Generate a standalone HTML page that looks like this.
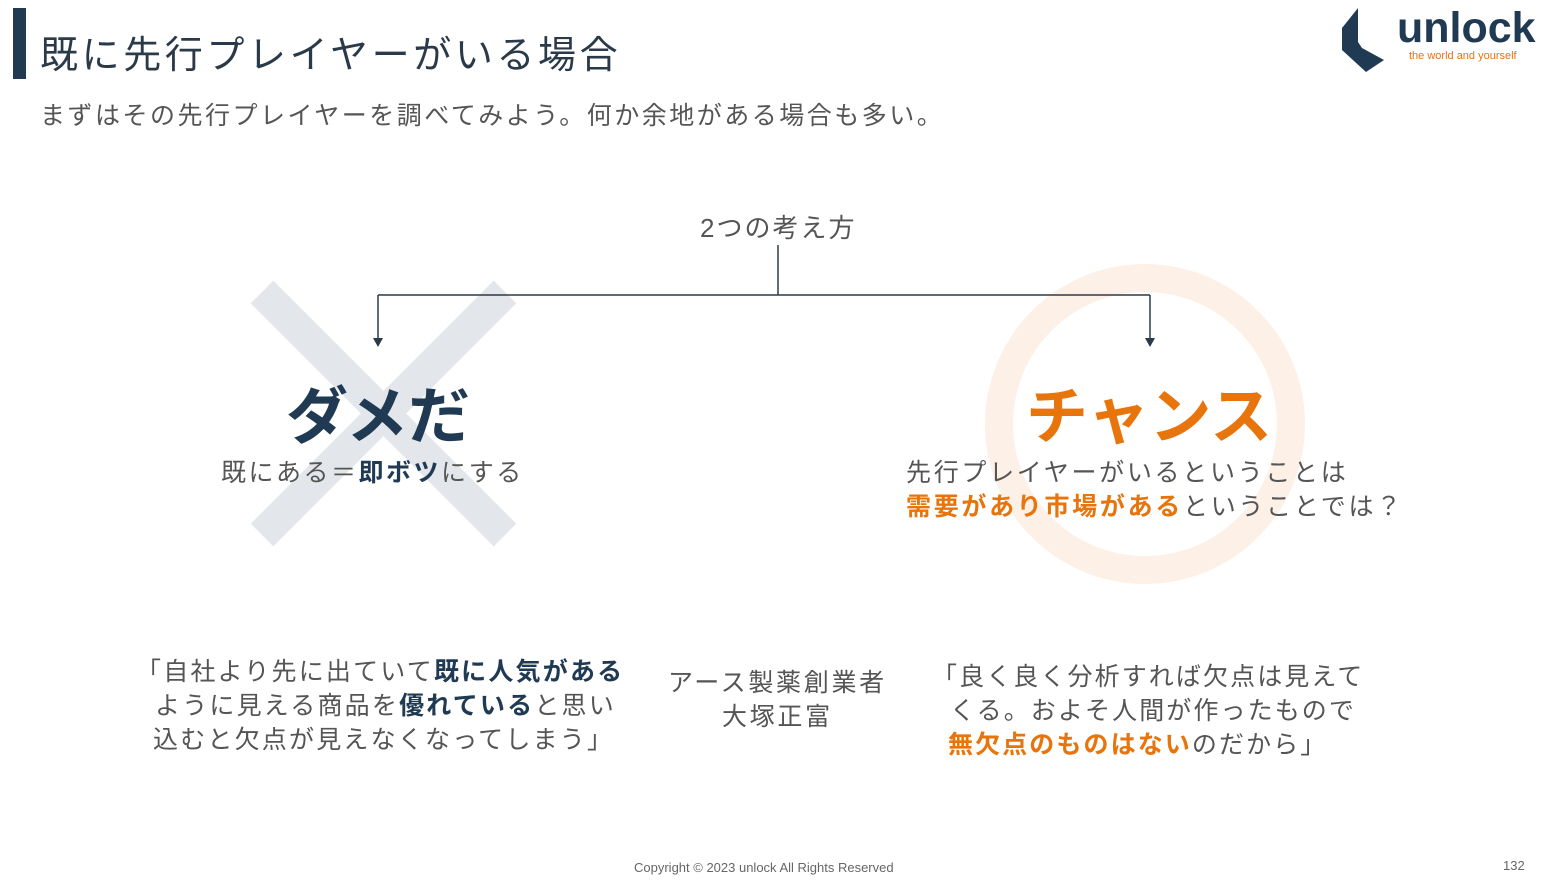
<!DOCTYPE html>
<html><head><meta charset="utf-8"><style>
*{margin:0;padding:0}
body{width:1568px;height:890px;position:relative;background:#fff;overflow:hidden;font-family:"Liberation Sans","Noto Sans CJK JP",sans-serif;color:#555}
.a{position:absolute;white-space:nowrap}
.n{color:#1f3a52;font-weight:bold}
.o{color:#e8740c;font-weight:bold}
</style></head><body>
<div class="a" style="left:13px;top:8px;width:13px;height:71px;background:#1f3a52"></div>
<div class="a" style="left:40px;top:24px;font-size:38px;letter-spacing:3.6px;color:#2b3a48">既に先行プレイヤーがいる場合</div>
<div class="a" style="left:40px;top:96px;font-size:25px;letter-spacing:2.5px">まずはその先行プレイヤーを調べてみよう。何か余地がある場合も多い。</div>
<svg class="a" style="left:1340px;top:8px" width="48" height="66" viewBox="0 0 48 66"><polygon points="18,0 2,20 2,42 26,64 44,52 22,40 18,34" fill="#1f3a52"/></svg>
<div class="a" style="left:1397px;top:4px;font-size:43px;font-weight:bold;color:#1f3a52">unlock</div>
<div class="a" style="left:1409px;top:50px;font-size:11px;color:#e8740c">the world and yourself</div>
<svg class="a" style="left:0;top:0" width="1568" height="890">
<line x1="262" y1="292" x2="505" y2="535" stroke="#e3e6ea" stroke-width="32"/>
<line x1="505" y1="292" x2="262" y2="535" stroke="#e3e6ea" stroke-width="32"/>
<circle cx="1145" cy="424" r="146" fill="none" stroke="#fdf0e6" stroke-width="28"/>
<g stroke="#2b3a48" stroke-width="1.5" fill="none"><line x1="778" y1="245" x2="778" y2="295"/><line x1="378" y1="295" x2="1150" y2="295"/><line x1="378" y1="295" x2="378" y2="340"/><line x1="1150" y1="295" x2="1150" y2="340"/></g>
<polygon points="373,338 383,338 378,347" fill="#2b3a48"/><polygon points="1145,338 1155,338 1150,347" fill="#2b3a48"/>
</svg>
<div class="a" style="left:700px;top:208px;font-size:26px;letter-spacing:2px">2つの考え方</div>
<div class="a n" style="left:286px;top:366px;font-size:62px">ダメだ</div>
<div class="a o" style="left:1026px;top:366px;font-size:62px">チャンス</div>
<div class="a" style="left:221px;top:453px;font-size:25px;letter-spacing:2.5px">既にある＝<span class="n">即ボツ</span>にする</div>
<div class="a" style="left:906px;top:453px;font-size:25px;letter-spacing:2.7px">先行プレイヤーがいるということは</div>
<div class="a" style="left:906px;top:487px;font-size:25px;letter-spacing:2.7px"><span class="o">需要があり市場がある</span>ということでは？</div>
<div class="a" style="left:136px;top:655px;font-size:25px;letter-spacing:2.2px;line-height:34px">「自社より先に出ていて<span class="n">既に人気がある</span></div>
<div class="a" style="left:155px;top:689px;font-size:25px;letter-spacing:2.2px;line-height:34px">ように見える商品を<span class="n">優れている</span>と思い</div>
<div class="a" style="left:153px;top:723px;font-size:25px;letter-spacing:2.2px;line-height:34px">込むと欠点が見えなくなってしまう」</div>
<div class="a" style="left:668px;top:666px;font-size:25px;letter-spacing:2.7px;line-height:34px;text-align:center">アース製薬創業者<br>大塚正富</div>
<div class="a" style="left:932px;top:660px;font-size:25px;letter-spacing:2.1px;line-height:34px">「良く良く分析すれば欠点は見えて</div>
<div class="a" style="left:950px;top:694px;font-size:25px;letter-spacing:2.1px;line-height:34px">くる。およそ人間が作ったもので</div>
<div class="a" style="left:948px;top:728px;font-size:25px;letter-spacing:2.1px;line-height:34px"><span class="o">無欠点のものはない</span>のだから」</div>
<div class="a" style="left:634px;top:860px;font-size:13px;color:#666">Copyright © 2023 unlock All Rights Reserved</div>
<div class="a" style="left:1503px;top:858px;font-size:13px;color:#666">132</div>
</body></html>
